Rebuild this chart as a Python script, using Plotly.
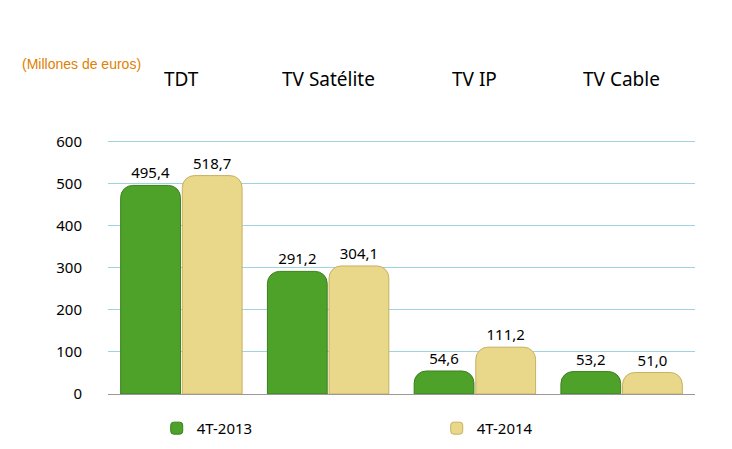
import plotly.graph_objects as go

categories = ["TDT", "TV Satélite", "TV IP", "TV Cable"]
s2013 = [495.4, 291.2, 54.6, 53.2]
s2014 = [518.7, 304.1, 111.2, 51.0]
ticks = [0, 100, 200, 300, 400, 500, 600]

def fmt(v):
    return f"{v:.1f}".replace(".", ",")

fig = go.Figure()
fig.add_trace(go.Bar(x=categories, y=s2013, name="4T-2013",
                     marker=dict(color="#4ea22a", line=dict(color="#3a7f1c", width=1),
                                 cornerradius=12),
                     text=[fmt(v) for v in s2013], textposition="outside",
                     textfont=dict(size=15, color="#000"), cliponaxis=False))
fig.add_trace(go.Bar(x=categories, y=s2014, name="4T-2014",
                     marker=dict(color="#e9d88a", line=dict(color="#c8b060", width=1),
                                 cornerradius=12),
                     text=[fmt(v) for v in s2014], textposition="outside",
                     textfont=dict(size=15, color="#000"), cliponaxis=False))

for c in categories:
    fig.add_annotation(x=c, y=1.17, yref="paper", text=c, showarrow=False,
                       font=dict(size=19, color="#000"), yanchor="bottom")

fig.add_annotation(x=0, y=1, xref="paper", yref="paper", xanchor="left", yanchor="top",
                   text="(Millones de euros)", showarrow=False,
                   font=dict(family="Liberation Sans", size=14, color="#e08000"))

fig.update_layout(
    width=732, height=449, template="none",
    paper_bgcolor="white", plot_bgcolor="white",
    margin=dict(l=100, r=45, t=130, b=56),
    font=dict(family="Noto Sans", size=15, color="#000"),
    barmode="group", bargap=0.16, bargroupgap=0.03,
    showlegend=True,
    legend=dict(orientation="h", x=0.56, xanchor="center", y=-0.07, yanchor="top",
                font=dict(size=15), entrywidthmode="pixels", entrywidth=235),
    xaxis=dict(showticklabels=False, showgrid=False, showline=True, linecolor="#999",
               ticks=""),
    yaxis=dict(range=[0, 608], tickvals=ticks, showgrid=True, gridcolor="#9fd3e0",
               gridwidth=1, showline=False, zeroline=False, tickfont=dict(size=15),
               ticks="", ticklabelstandoff=25),
)
fig.layout.annotations[-1].update(x=-0.15, y=1.33)

fig.write_html("out.html")
